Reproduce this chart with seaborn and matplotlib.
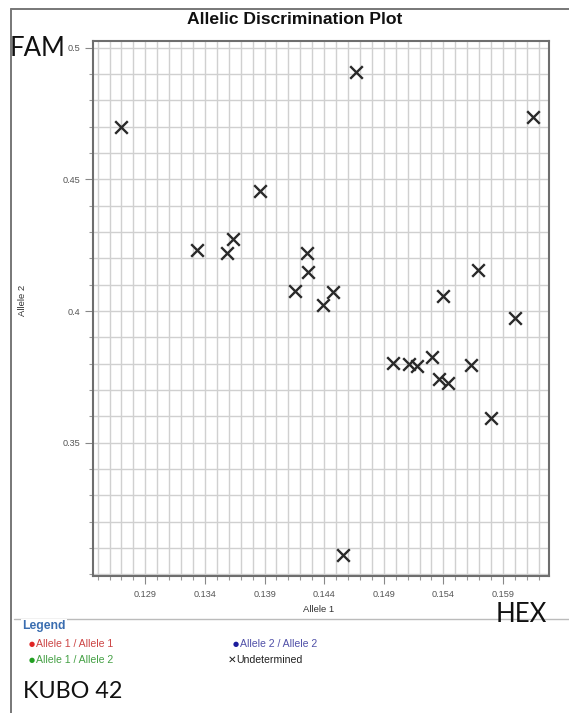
import numpy as np
import pandas as pd
import matplotlib.pyplot as plt
from matplotlib.ticker import FixedLocator, MultipleLocator
import seaborn as sns

# allele signal values (all calls are "Undetermined")
allele1 = [0.12694, 0.14667, 0.16154, 0.13862, 0.13331, 0.13583, 0.13633, 0.14254,
           0.14267, 0.14156, 0.14472, 0.14393, 0.14556, 0.14980, 0.15112, 0.15181,
           0.15305, 0.15366, 0.15436, 0.15399, 0.15629, 0.15693, 0.15799, 0.16001]
allele2 = [0.4700, 0.4909, 0.4735, 0.4456, 0.4232, 0.4219, 0.4272, 0.4221,
           0.4149, 0.4077, 0.4071, 0.4022, 0.3073, 0.3803, 0.3800, 0.3792,
           0.3824, 0.3742, 0.3726, 0.4058, 0.3796, 0.4156, 0.3595, 0.3975]

x_ticks = [0.129, 0.134, 0.139, 0.144, 0.149, 0.154, 0.159]
x_tick_labels = ["0.129", "0.134", "0.139", "0.144", "0.149", "0.154", "0.159"]
y_ticks = [0.35, 0.4, 0.45, 0.5]
y_tick_labels = ["0.35", "0.4", "0.45", "0.5"]

legend_labels = ["Allele 1 / Allele 1", "Allele 1 / Allele 2", "Allele 2 / Allele 2", "Undetermined"]
legend_dot_colors = ["#e02424", "#22a022", "#1c1c9c", "#222222"]
legend_text_colors = ["#cc4444", "#44a044", "#5050a8", "#222222"]

W, H = 569, 713


def fx(px):
    return px / W


def fy(py):
    return 1 - py / H


sns.set_style("white")
plt.rcParams['font.family'] = ['Liberation Sans', 'DejaVu Sans']

fig = plt.figure(figsize=(W / 100, H / 100), dpi=100)
ax = fig.add_axes([fx(93), fy(576), fx(549.3) - fx(93), fy(41) - fy(576)])

df = pd.DataFrame({"Allele 1": allele1, "Allele 2": allele2})
sns.scatterplot(data=df, x="Allele 1", y="Allele 2", marker="x", s=82,
                color="#2a2a2a", linewidth=1.7, ax=ax, zorder=3)

ax.set_xlim(0.12461, 0.16288)
ax.set_ylim(0.2994, 0.5025)

ax.xaxis.set_major_locator(FixedLocator(x_ticks))
ax.xaxis.set_minor_locator(MultipleLocator(0.001))
ax.yaxis.set_major_locator(FixedLocator(y_ticks))
ax.yaxis.set_minor_locator(MultipleLocator(0.01))
ax.set_xticklabels(x_tick_labels)
ax.set_yticklabels(y_tick_labels)

ax.grid(which="both", color="#d0d0d0", linewidth=1.0)
ax.set_axisbelow(True)
ax.tick_params(which="major", direction="out", length=6, width=0.8, color="#888888",
               labelsize=6.6, labelcolor="#555555", bottom=True, left=True)
ax.tick_params(axis="x", which="major", pad=4)
ax.tick_params(axis="y", which="major", pad=3)
ax.tick_params(which="minor", direction="out", length=3, width=0.8, color="#999999",
               bottom=True, left=True)
for sp in ax.spines.values():
    sp.set_color("#6e6e6e")
    sp.set_linewidth(1.5)

ax.set_xlabel("Allele 1", fontsize=6.8, color="#333333")
ax.set_ylabel("Allele 2", fontsize=6.8, color="#333333")
ax.xaxis.set_label_coords(0.495, -0.054)
ax.yaxis.set_label_coords(-0.145, 0.516)

# title and outer frame
fig.text(fx(295), fy(19), "Allelic Discrimination Plot", ha="center", va="center",
         fontsize=12.6, fontweight="bold", color="#111111")
fig.add_artist(plt.Line2D([fx(11), 1], [fy(9.3), fy(9.3)], color="#777777", lw=1.4))
fig.add_artist(plt.Line2D([fx(11), fx(11)], [fy(9.3), 0], color="#777777", lw=1.4))

# legend box
fig.add_artist(plt.Line2D([fx(14), 1], [fy(619), fy(619)], color="#bbbbbb", lw=1.0))
fig.text(fx(22.5), fy(626), "Legend", ha="left", va="center", fontsize=8.8,
         fontweight="bold", color="#3a6db0",
         bbox=dict(facecolor="white", edgecolor="none", pad=1))
legend_pos = [(32, 644), (32, 660), (235.5, 644), (232, 660)]
for (lx, ly), lab, dc, tc in zip(legend_pos, legend_labels, legend_dot_colors, legend_text_colors):
    if lab == "Undetermined":
        fig.text(fx(lx), fy(ly), "\u2715", ha="center", va="center", fontsize=7.5,
                 color=dc, family=["DejaVu Sans"])
    else:
        fig.text(fx(lx), fy(ly), "\u25cf", ha="center", va="center", fontsize=5,
                 color=dc, family=["DejaVu Sans"])
    fig.text(fx(lx + 4), fy(ly), lab, ha="left", va="center", fontsize=7.6, color=tc)

# handwritten-style annotations
big = dict(family=["Lato", "DejaVu Sans"], color="#111111", va="center")
fig.text(fx(10), fy(48), "FAM", ha="left", fontsize=18.5, **big)
fig.text(fx(496), fy(614), "HEX", ha="left", fontsize=18.5, **big)
fig.text(fx(23), fy(691), "KUBO 42", ha="left", fontsize=16.8, **big)

fig.savefig("out.png", dpi=100)
